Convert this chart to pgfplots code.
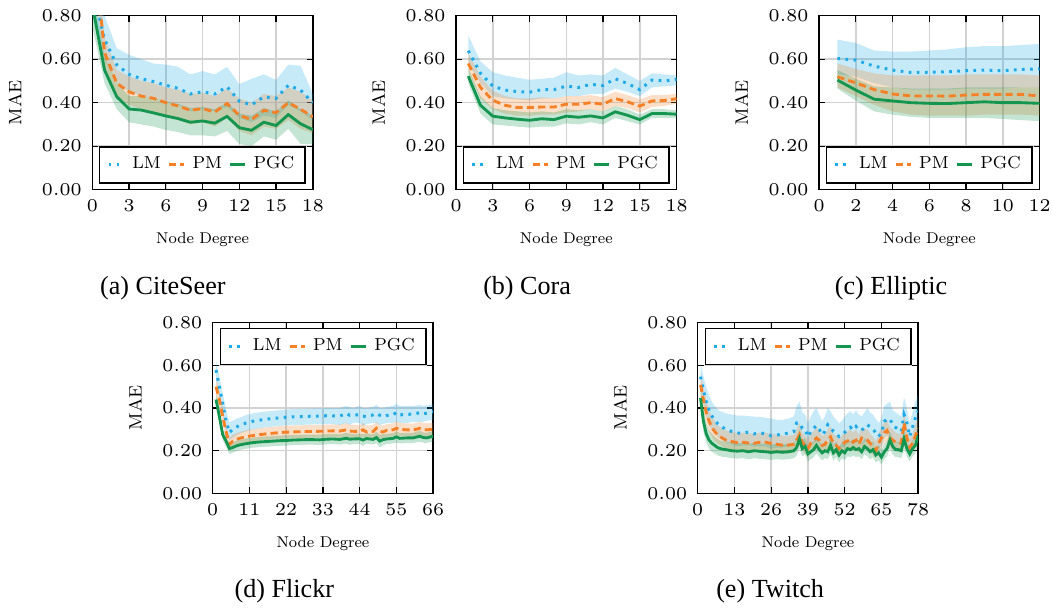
\documentclass[border=0pt]{standalone}
\usepackage{fontspec}
\usepackage{pgfplots}
\usepackage{pgfplotstable}
\pgfplotsset{compat=1.18}
\usepgfplotslibrary{fillbetween}
\newfontfamily\capfont{Liberation Serif}
\newfontfamily\lmeight{lmroman8-regular.otf}
\definecolor{cLM}{RGB}{30,170,230}
\definecolor{cPM}{RGB}{245,128,37}
\definecolor{cPGC}{RGB}{20,150,80}
\newcommand{\fs}{\lmeight\fontsize{5.2}{6}\selectfont}
\newcommand{\ls}{\lmeight\fontsize{5.8}{6.4}\selectfont}
\newcommand{\ys}{\lmeight\fontsize{6}{7}\selectfont}
\newcommand{\ts}{\fontsize{6}{7}\selectfont}

% ---------- CiteSeer ----------
\pgfplotstableread{
x y lo hi
0 0.934 0.80 1.05
1 0.69 0.60 0.80
2 0.574 0.49 0.65
3 0.53 0.45 0.62
4 0.51 0.43 0.60
5 0.497 0.42 0.58
6 0.48 0.40 0.575
7 0.466 0.39 0.565
8 0.44 0.36 0.53
9 0.45 0.37 0.545
10 0.44 0.36 0.53
11 0.473 0.38 0.565
12 0.407 0.33 0.485
13 0.39 0.31 0.51
14 0.427 0.34 0.53
15 0.42 0.33 0.505
16 0.48 0.39 0.575
17 0.458 0.36 0.57
18 0.40 0.32 0.44
}\aLM
\pgfplotstableread{
x y lo hi
0 1.2 1.05 1.3
1 0.63 0.56 0.70
2 0.489 0.43 0.55
3 0.45 0.39 0.52
4 0.43 0.37 0.50
5 0.42 0.355 0.49
6 0.40 0.34 0.47
7 0.385 0.32 0.46
8 0.365 0.30 0.44
9 0.373 0.31 0.445
10 0.357 0.29 0.43
11 0.396 0.33 0.465
12 0.342 0.27 0.42
13 0.322 0.25 0.40
14 0.365 0.29 0.44
15 0.354 0.28 0.43
16 0.40 0.32 0.47
17 0.37 0.28 0.45
18 0.335 0.26 0.41
}\aPM
\pgfplotstableread{
x y lo hi
0 0.85 0.75 0.95
1 0.55 0.49 0.61
2 0.427 0.37 0.49
3 0.371 0.31 0.43
4 0.366 0.30 0.43
5 0.353 0.29 0.42
6 0.339 0.275 0.405
7 0.327 0.265 0.395
8 0.31 0.25 0.375
9 0.316 0.25 0.38
10 0.306 0.245 0.37
11 0.337 0.27 0.40
12 0.285 0.21 0.35
13 0.273 0.20 0.34
14 0.31 0.245 0.375
15 0.295 0.23 0.36
16 0.345 0.28 0.41
17 0.303 0.21 0.37
18 0.276 0.21 0.34
}\aPGC
% ---------- Cora ----------
\pgfplotstableread{
x y lo hi
1 0.639 0.58 0.71
2 0.535 0.49 0.59
3 0.476 0.43 0.54
4 0.458 0.42 0.525
5 0.451 0.415 0.515
6 0.448 0.41 0.505
7 0.46 0.42 0.51
8 0.46 0.42 0.515
9 0.476 0.43 0.54
10 0.47 0.43 0.525
11 0.484 0.44 0.53
12 0.479 0.44 0.525
13 0.51 0.465 0.56
14 0.488 0.45 0.53
15 0.46 0.43 0.50
16 0.504 0.47 0.535
17 0.50 0.475 0.53
18 0.507 0.48 0.525
}\bLM
\pgfplotstableread{
x y lo hi
1 0.58 0.54 0.63
2 0.47 0.42 0.52
3 0.411 0.37 0.455
4 0.388 0.35 0.43
5 0.378 0.34 0.42
6 0.378 0.34 0.42
7 0.38 0.345 0.425
8 0.38 0.345 0.42
9 0.393 0.355 0.43
10 0.393 0.36 0.43
11 0.40 0.37 0.435
12 0.393 0.36 0.425
13 0.419 0.385 0.45
14 0.404 0.375 0.435
15 0.384 0.355 0.415
16 0.408 0.38 0.435
17 0.41 0.385 0.435
18 0.418 0.395 0.44
}\bPM
\pgfplotstableread{
x y lo hi
1 0.522 0.49 0.56
2 0.388 0.35 0.43
3 0.338 0.30 0.375
4 0.33 0.295 0.365
5 0.324 0.29 0.36
6 0.319 0.285 0.355
7 0.326 0.29 0.36
8 0.322 0.29 0.355
9 0.338 0.305 0.37
10 0.333 0.30 0.365
11 0.339 0.31 0.37
12 0.33 0.30 0.36
13 0.358 0.33 0.385
14 0.342 0.315 0.37
15 0.322 0.30 0.345
16 0.35 0.33 0.37
17 0.35 0.33 0.37
18 0.347 0.33 0.365
}\bPGC
% ---------- Elliptic ----------
\pgfplotstableread{
x y lo hi
1 0.603 0.53 0.69
2 0.596 0.52 0.675
3 0.568 0.49 0.64
4 0.55 0.47 0.635
5 0.539 0.46 0.635
6 0.54 0.46 0.64
7 0.542 0.46 0.645
8 0.547 0.465 0.655
9 0.55 0.465 0.66
10 0.547 0.465 0.66
11 0.553 0.47 0.665
12 0.555 0.47 0.67
}\cLM
\pgfplotstableread{
x y lo hi
1 0.519 0.47 0.58
2 0.491 0.43 0.555
3 0.46 0.39 0.535
4 0.44 0.36 0.525
5 0.431 0.345 0.525
6 0.431 0.34 0.525
7 0.43 0.34 0.525
8 0.435 0.34 0.53
9 0.438 0.345 0.53
10 0.438 0.345 0.53
11 0.438 0.345 0.53
12 0.431 0.34 0.525
}\cPM
\pgfplotstableread{
x y lo hi
1 0.504 0.465 0.55
2 0.458 0.41 0.51
3 0.416 0.36 0.475
4 0.408 0.345 0.47
5 0.40 0.335 0.465
6 0.397 0.33 0.465
7 0.396 0.33 0.465
8 0.40 0.33 0.47
9 0.404 0.33 0.47
10 0.40 0.325 0.47
11 0.40 0.32 0.47
12 0.397 0.315 0.47
}\cPGC
% ---------- Flickr ----------
\pgfplotstableread{
x y lo hi
1 0.578 0.53 0.62
2 0.50 0.45 0.55
3 0.42 0.37 0.47
4 0.34 0.29 0.395
5 0.285 0.25 0.335
6 0.30 0.26 0.34
7 0.31 0.27 0.35
8 0.318 0.28 0.355
10 0.33 0.29 0.367
12 0.338 0.30 0.375
14 0.343 0.305 0.38
16 0.348 0.31 0.384
18 0.351 0.313 0.387
20 0.354 0.316 0.39
22 0.357 0.319 0.393
24 0.359 0.32 0.395
26 0.36 0.321 0.396
28 0.361 0.322 0.397
30 0.362 0.323 0.398
32 0.362 0.323 0.398
34 0.364 0.325 0.40
36 0.363 0.324 0.399
38 0.362 0.32 0.40
40 0.375 0.33 0.41
41 0.366 0.32 0.405
42 0.365 0.33 0.40
44 0.37 0.33 0.41
45 0.362 0.315 0.40
46 0.36 0.325 0.40
48 0.368 0.33 0.405
49 0.375 0.33 0.415
50 0.366 0.32 0.40
51 0.36 0.325 0.40
52 0.365 0.33 0.405
54 0.368 0.33 0.41
55 0.38 0.335 0.42
56 0.368 0.33 0.41
58 0.37 0.33 0.41
60 0.372 0.335 0.41
62 0.378 0.335 0.415
63 0.372 0.335 0.41
64 0.376 0.34 0.412
66 0.383 0.345 0.418
}\dLM
\pgfplotstableread{
x y lo hi
1 0.50 0.46 0.54
2 0.44 0.40 0.48
3 0.36 0.325 0.40
4 0.29 0.26 0.325
5 0.23 0.205 0.26
6 0.245 0.218 0.275
7 0.252 0.224 0.282
8 0.258 0.23 0.288
10 0.266 0.238 0.296
12 0.271 0.243 0.301
14 0.275 0.247 0.305
16 0.279 0.25 0.309
18 0.282 0.253 0.312
20 0.285 0.256 0.315
22 0.287 0.258 0.317
24 0.288 0.259 0.318
26 0.289 0.26 0.319
28 0.29 0.261 0.32
30 0.29 0.261 0.32
32 0.291 0.262 0.321
34 0.292 0.263 0.322
36 0.293 0.264 0.323
38 0.292 0.262 0.322
40 0.298 0.265 0.33
41 0.292 0.262 0.322
42 0.291 0.26 0.322
44 0.29 0.26 0.32
45 0.298 0.265 0.33
46 0.288 0.258 0.318
48 0.29 0.26 0.32
49 0.305 0.27 0.335
50 0.29 0.258 0.32
51 0.288 0.258 0.318
52 0.295 0.265 0.325
54 0.298 0.268 0.328
55 0.305 0.272 0.338
56 0.30 0.27 0.33
58 0.298 0.268 0.328
60 0.297 0.267 0.327
62 0.305 0.272 0.335
63 0.30 0.27 0.33
64 0.298 0.268 0.328
66 0.30 0.27 0.33
}\dPM
\pgfplotstableread{
x y lo hi
1 0.44 0.41 0.47
2 0.36 0.33 0.39
3 0.275 0.25 0.30
4 0.245 0.22 0.27
5 0.21 0.185 0.235
6 0.215 0.19 0.24
7 0.222 0.198 0.246
8 0.227 0.203 0.251
10 0.233 0.209 0.257
12 0.238 0.214 0.262
14 0.241 0.217 0.265
16 0.243 0.219 0.267
18 0.245 0.221 0.269
20 0.247 0.223 0.271
22 0.248 0.224 0.272
24 0.25 0.226 0.274
26 0.251 0.227 0.275
28 0.252 0.228 0.276
30 0.252 0.228 0.276
32 0.251 0.227 0.275
34 0.254 0.23 0.278
36 0.255 0.231 0.279
38 0.253 0.229 0.277
40 0.258 0.232 0.284
41 0.254 0.228 0.28
42 0.255 0.231 0.279
44 0.256 0.232 0.28
45 0.25 0.222 0.278
46 0.257 0.233 0.281
48 0.253 0.229 0.277
49 0.262 0.235 0.289
50 0.245 0.215 0.275
51 0.252 0.226 0.278
52 0.255 0.231 0.279
54 0.258 0.234 0.282
55 0.265 0.238 0.292
56 0.258 0.234 0.282
58 0.26 0.236 0.284
60 0.26 0.236 0.284
62 0.268 0.242 0.294
63 0.262 0.238 0.286
64 0.26 0.236 0.284
66 0.268 0.244 0.292
}\dPGC
% ---------- Twitch ----------
\pgfplotstableread{
x y lo hi
1 0.547 0.48 0.61
2 0.484 0.42 0.55
3 0.43 0.36 0.50
4 0.39 0.32 0.46
5 0.363 0.295 0.43
6 0.344 0.28 0.41
7 0.328 0.265 0.395
8 0.316 0.255 0.385
9 0.308 0.245 0.38
10 0.30 0.24 0.375
12 0.29 0.23 0.37
14 0.282 0.22 0.365
16 0.284 0.225 0.365
18 0.287 0.225 0.362
20 0.279 0.22 0.36
22 0.283 0.22 0.358
24 0.28 0.22 0.355
26 0.27 0.21 0.35
28 0.274 0.215 0.345
30 0.277 0.215 0.345
32 0.283 0.22 0.35
34 0.29 0.225 0.36
35 0.33 0.26 0.41
36 0.33 0.25 0.43
37 0.305 0.24 0.38
38 0.30 0.235 0.37
39 0.265 0.21 0.33
40 0.29 0.225 0.36
41 0.305 0.235 0.385
42 0.318 0.245 0.40
43 0.30 0.235 0.37
44 0.275 0.215 0.34
45 0.29 0.225 0.36
46 0.322 0.25 0.40
47 0.31 0.24 0.385
48 0.29 0.225 0.36
49 0.28 0.22 0.345
50 0.266 0.21 0.33
51 0.275 0.215 0.34
52 0.286 0.22 0.36
53 0.30 0.235 0.375
54 0.31 0.24 0.385
55 0.298 0.23 0.37
56 0.314 0.245 0.39
57 0.30 0.235 0.37
58 0.295 0.23 0.36
59 0.31 0.24 0.38
60 0.322 0.25 0.40
61 0.31 0.24 0.38
62 0.30 0.235 0.37
63 0.285 0.22 0.35
64 0.267 0.21 0.33
65 0.283 0.22 0.35
66 0.338 0.26 0.41
67 0.345 0.27 0.42
68 0.35 0.27 0.43
69 0.32 0.25 0.39
70 0.309 0.24 0.38
71 0.30 0.235 0.37
72 0.29 0.225 0.36
73 0.369 0.28 0.45
74 0.33 0.255 0.40
75 0.267 0.21 0.33
76 0.31 0.24 0.38
77 0.353 0.27 0.43
78 0.387 0.30 0.46
}\eLM
\pgfplotstableread{
x y lo hi
1 0.509 0.45 0.57
2 0.44 0.38 0.50
3 0.38 0.33 0.44
4 0.34 0.29 0.39
5 0.31 0.265 0.36
6 0.29 0.245 0.34
7 0.275 0.235 0.32
8 0.265 0.225 0.31
9 0.257 0.217 0.30
10 0.25 0.21 0.295
12 0.243 0.203 0.29
14 0.238 0.198 0.283
16 0.24 0.20 0.285
18 0.236 0.196 0.281
20 0.235 0.195 0.28
22 0.24 0.20 0.285
24 0.24 0.20 0.285
26 0.234 0.194 0.279
28 0.23 0.19 0.275
30 0.226 0.186 0.271
32 0.226 0.186 0.271
34 0.23 0.19 0.275
35 0.25 0.205 0.30
36 0.275 0.225 0.33
37 0.24 0.20 0.285
38 0.225 0.185 0.27
39 0.21 0.17 0.255
40 0.235 0.195 0.28
41 0.245 0.20 0.29
42 0.26 0.215 0.31
43 0.25 0.21 0.295
44 0.225 0.185 0.27
45 0.23 0.19 0.275
46 0.25 0.205 0.30
47 0.265 0.22 0.315
48 0.235 0.195 0.28
49 0.225 0.185 0.27
50 0.21 0.17 0.255
51 0.225 0.185 0.27
52 0.24 0.20 0.285
53 0.245 0.20 0.29
54 0.255 0.21 0.30
55 0.24 0.20 0.285
56 0.25 0.205 0.30
57 0.23 0.19 0.275
58 0.26 0.215 0.31
59 0.255 0.21 0.30
60 0.25 0.205 0.30
61 0.235 0.195 0.28
62 0.22 0.18 0.265
63 0.20 0.165 0.245
64 0.235 0.195 0.28
65 0.26 0.215 0.31
66 0.285 0.235 0.335
67 0.295 0.245 0.345
68 0.26 0.215 0.31
69 0.25 0.205 0.30
70 0.24 0.20 0.285
71 0.235 0.195 0.28
72 0.235 0.195 0.28
73 0.33 0.27 0.385
74 0.26 0.215 0.31
75 0.215 0.175 0.26
76 0.235 0.195 0.28
77 0.27 0.225 0.32
78 0.305 0.25 0.36
}\ePM
\pgfplotstableread{
x y lo hi
1 0.447 0.39 0.50
2 0.34 0.29 0.39
3 0.28 0.24 0.33
4 0.25 0.21 0.295
5 0.235 0.195 0.28
6 0.225 0.187 0.265
7 0.215 0.178 0.255
8 0.21 0.174 0.248
9 0.207 0.171 0.244
10 0.205 0.17 0.242
12 0.20 0.165 0.237
14 0.198 0.163 0.235
16 0.20 0.165 0.237
18 0.195 0.16 0.232
20 0.20 0.165 0.237
22 0.197 0.162 0.234
24 0.195 0.16 0.232
26 0.192 0.157 0.229
28 0.195 0.16 0.232
30 0.193 0.158 0.23
32 0.195 0.16 0.232
34 0.20 0.165 0.237
35 0.215 0.178 0.255
36 0.255 0.21 0.30
37 0.21 0.174 0.248
38 0.22 0.183 0.258
39 0.185 0.15 0.222
40 0.195 0.16 0.232
41 0.205 0.17 0.242
42 0.225 0.187 0.265
43 0.205 0.17 0.242
44 0.19 0.155 0.227
45 0.20 0.165 0.237
46 0.195 0.16 0.232
47 0.225 0.187 0.265
48 0.19 0.155 0.227
49 0.205 0.17 0.242
50 0.18 0.145 0.217
51 0.20 0.165 0.237
52 0.19 0.155 0.227
53 0.21 0.174 0.248
54 0.205 0.17 0.242
55 0.215 0.178 0.255
56 0.205 0.17 0.242
57 0.21 0.174 0.248
58 0.195 0.16 0.232
59 0.22 0.183 0.258
60 0.21 0.174 0.248
61 0.195 0.16 0.232
62 0.205 0.17 0.242
63 0.18 0.145 0.217
64 0.19 0.155 0.227
65 0.17 0.135 0.207
66 0.195 0.16 0.232
67 0.21 0.174 0.248
68 0.25 0.21 0.29
69 0.22 0.183 0.258
70 0.205 0.17 0.242
71 0.205 0.17 0.242
72 0.20 0.165 0.237
73 0.255 0.21 0.30
74 0.21 0.174 0.248
75 0.185 0.15 0.222
76 0.21 0.174 0.248
77 0.225 0.187 0.265
78 0.27 0.225 0.315
}\ePGC

\newcommand{\band}[3]{%
  \addplot[draw=none, name path=#3u, forget plot] table[x=x,y=hi]{#1};
  \addplot[draw=none, name path=#3l, forget plot] table[x=x,y=lo]{#1};
  \addplot[fill=#2, fill opacity=0.25, draw=none, forget plot] fill between[of=#3u and #3l];
}
\newcommand{\three}[4]{% LM PM PGC prefix
  \band{#1}{cLM}{#4a}
  \band{#2}{cPM}{#4b}
  \band{#3}{cPGC}{#4c}
  \addplot[cLM, line width=1pt, dash pattern=on 0.9pt off 1.8pt] table[x=x,y=y]{#1};
  \addlegendentry{LM}
  \addplot[cPM, line width=0.95pt, dash pattern=on 2.4pt off 1.4pt] table[x=x,y=y]{#2};
  \addlegendentry{PM}
  \addplot[cPGC, line width=0.95pt] table[x=x,y=y]{#3};
  \addlegendentry{PGC}
}

\pgfplotsset{
  sub/.style={
    scale only axis, width=73.5pt, height=58pt,
    ymin=0, ymax=0.8, ytick={0,0.2,0.4,0.6,0.8},
    yticklabel style={/pgf/number format/.cd, fixed, fixed zerofill, precision=2},
    grid=major, grid style={gray!35, line width=0.5pt},
    axis line style={line width=0.5pt},
    major tick length=2pt, tick style={black, line width=0.4pt},
    tick label style={font=\ts},
    xlabel style={font=\fs},
    ylabel style={font=\ys},
    xlabel={Node Degree}, ylabel={MAE},
    legend columns=3,
    legend cell align=left,
    legend style={font=\ls, draw=black, line width=0.5pt, inner ysep=2pt, inner xsep=2.5pt,
      nodes={inner sep=1.2pt},
      /tikz/every odd column/.append style={column sep=1.2pt},
      /tikz/every even column/.append style={column sep=1pt}},
    legend image code/.code={\draw[##1] plot coordinates {(0pt,0pt) (2.5pt,0pt) (5pt,0pt)};},
  },
  lowleg/.style={legend style={at={(0.03,0.035)}, anchor=south west}},
  highleg/.style={legend style={at={(0.97,0.97)}, anchor=north east}},
}

\begin{document}
\begin{tikzpicture}

\begin{axis}[sub, lowleg, at={(30.77pt,-5.23pt)}, anchor=north west,
  xmin=0, xmax=18, xtick={0,3,...,18}]
\three{\aLM}{\aPM}{\aPGC}{A}
\end{axis}

\begin{axis}[sub, lowleg, at={(152pt,-5.23pt)}, anchor=north west,
  xmin=0, xmax=18, xtick={0,3,...,18}]
\three{\bLM}{\bPM}{\bPGC}{B}
\end{axis}

\begin{axis}[sub, lowleg, at={(273pt,-5.23pt)}, anchor=north west,
  xmin=0, xmax=12, xtick={0,2,...,12}]
\three{\cLM}{\cPM}{\cPGC}{C}
\end{axis}

\begin{axis}[sub, highleg, height=56.9pt, at={(70.9pt,-107.57pt)}, anchor=north west,
  xmin=0, xmax=66, xtick={0,11,...,66}]
\three{\dLM}{\dPM}{\dPGC}{D}
\end{axis}

\begin{axis}[sub, highleg, height=56.9pt, at={(232.57pt,-107.57pt)}, anchor=north west,
  xmin=0, xmax=78, xtick={0,13,...,78}]
\three{\eLM}{\ePM}{\ePGC}{E}
\end{axis}

\node[font=\capfont\fontsize{8.7}{10}\selectfont] at (54.3pt,-96pt) {(a) CiteSeer};
\node[font=\capfont\fontsize{8.7}{10}\selectfont] at (175.7pt,-96pt) {(b) Cora};
\node[font=\capfont\fontsize{8.7}{10}\selectfont] at (297pt,-96pt) {(c) Elliptic};
\node[font=\capfont\fontsize{8.7}{10}\selectfont] at (94.8pt,-197pt) {(d) Flickr};
\node[font=\capfont\fontsize{8.7}{10}\selectfont] at (256.7pt,-197pt) {(e) Twitch};

\pgfresetboundingbox
\path[use as bounding box] (0,0) rectangle (350.67pt,-202.67pt);
\end{tikzpicture}
\end{document}
